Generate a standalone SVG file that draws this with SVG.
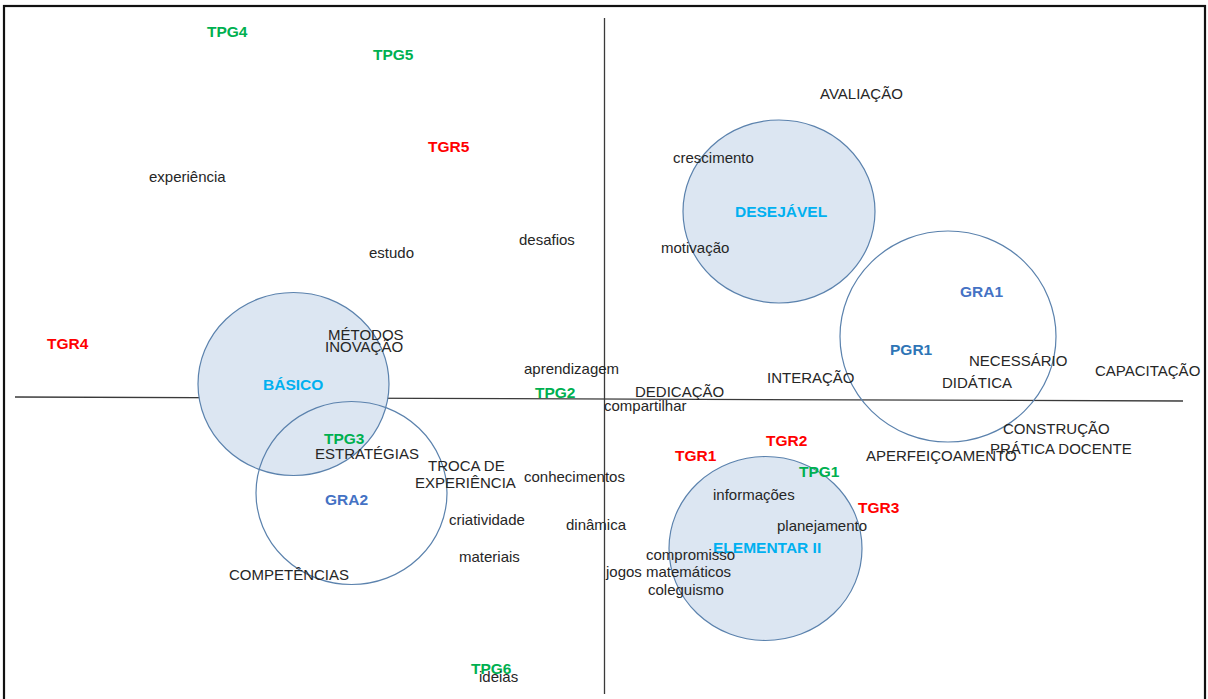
<svg xmlns="http://www.w3.org/2000/svg" width="1208" height="699" viewBox="0 0 1208 699">
  <style>
    .w { font-family: "Liberation Sans", Arial, sans-serif; font-size: 15px; fill: #262626; }
    .b { font-family: "Liberation Sans", Arial, sans-serif; font-size: 15.5px; font-weight: bold; }
    .tpg { fill: #00b050; }
    .tgr { fill: #ff0000; }
    .lvl { fill: #00b0f0; }
    .grp { fill: #4472c4; }
    .pgr { fill: #2e75b6; }
    .filled { fill: #dce6f2; stroke: #5b82ad; stroke-width: 1.2; }
    .open { fill: none; stroke: #5b82ad; stroke-width: 1.2; }
    .axis { stroke: #3a3a3a; stroke-width: 1.3; fill: none; }
  </style>

  <rect x="0" y="0" width="1208" height="699" fill="#ffffff"/>
  <!-- frame -->
  <rect x="4" y="6" width="1201" height="697" fill="none" stroke="#111111" stroke-width="2.2"/>

  <!-- axes -->
  <g id="connectors">
    <line class="axis" x1="604.5" y1="18" x2="604.5" y2="694"/>
    <line class="axis" x1="15" y1="397" x2="1183" y2="401"/>
  </g>

  <!-- clusters -->
  <g id="basico">
    <ellipse class="filled" cx="293.5" cy="384" rx="95.5" ry="91.5"/>
    <text class="b lvl" x="263" y="390">BÁSICO</text>
  </g>
  <g id="gra2">
    <ellipse class="open" cx="351.5" cy="493" rx="95.5" ry="91.5"/>
    <text class="b grp" x="325" y="505">GRA2</text>
  </g>
  <g id="desejavel">
    <ellipse class="filled" cx="779" cy="211.5" rx="96" ry="91.5"/>
    <text class="b lvl" x="735" y="217">DESEJÁVEL</text>
  </g>
  <g id="gra1">
    <ellipse class="open" cx="948" cy="336.5" rx="108" ry="105.5"/>
    <text class="b grp" x="960" y="297">GRA1</text>
  </g>
  <g id="pgr1">
    <text class="b pgr" x="890" y="355">PGR1</text>
  </g>
  <g id="elementar">
    <ellipse class="filled" cx="765.5" cy="548.5" rx="96.5" ry="92"/>
    <text class="b lvl" x="713" y="553">ELEMENTAR II</text>
  </g>

  <!-- participant codes -->
  <g id="tpg1"><text class="b tpg" x="799" y="477">TPG1</text></g>
  <g id="tpg2"><text class="b tpg" x="535" y="398">TPG2</text></g>
  <g id="tpg3"><text class="b tpg" x="324" y="444">TPG3</text></g>
  <g id="tpg4"><text class="b tpg" x="207" y="37">TPG4</text></g>
  <g id="tpg5"><text class="b tpg" x="373" y="60">TPG5</text></g>
  <g id="tpg6"><text class="b tpg" x="471" y="674">TPG6</text></g>
  <g id="tgr1"><text class="b tgr" x="675" y="461">TGR1</text></g>
  <g id="tgr2"><text class="b tgr" x="766" y="446">TGR2</text></g>
  <g id="tgr3"><text class="b tgr" x="858" y="513">TGR3</text></g>
  <g id="tgr4"><text class="b tgr" x="47" y="349">TGR4</text></g>
  <g id="tgr5"><text class="b tgr" x="428" y="152">TGR5</text></g>

  <!-- words -->
  <g id="words">
    <g id="w-experiencia"><text class="w" x="149" y="182">experiência</text></g>
    <g id="w-estudo"><text class="w" x="369" y="258">estudo</text></g>
    <g id="w-desafios"><text class="w" x="519" y="245">desafios</text></g>
    <g id="w-metodos"><text class="w" x="328" y="340">MÉTODOS</text></g>
    <g id="w-inovacao"><text class="w" x="325" y="352">INOVAÇÃO</text></g>
    <g id="w-estrategias"><text class="w" x="315" y="459">ESTRATÉGIAS</text></g>
    <g id="w-troca"><text class="w" x="428" y="471">TROCA DE</text><text class="w" x="415" y="488">EXPERIÊNCIA</text></g>
    <g id="w-criatividade"><text class="w" x="449" y="525">criatividade</text></g>
    <g id="w-materiais"><text class="w" x="459" y="562">materiais</text></g>
    <g id="w-competencias"><text class="w" x="229" y="580">COMPETÊNCIAS</text></g>
    <g id="w-conhecimentos"><text class="w" x="524" y="482">conhecimentos</text></g>
    <g id="w-dinamica"><text class="w" x="566" y="530">dinâmica</text></g>
    <g id="w-aprendizagem"><text class="w" x="524" y="374">aprendizagem</text></g>
    <g id="w-dedicacao"><text class="w" x="635" y="397">DEDICAÇÃO</text></g>
    <g id="w-compartilhar"><text class="w" x="604" y="411">compartilhar</text></g>
    <g id="w-ideias"><text class="w" x="479" y="682">ideias</text></g>
    <g id="w-avaliacao"><text class="w" x="820" y="99">AVALIAÇÃO</text></g>
    <g id="w-crescimento"><text class="w" x="673" y="163">crescimento</text></g>
    <g id="w-motivacao"><text class="w" x="661" y="253">motivação</text></g>
    <g id="w-necessario"><text class="w" x="969" y="366">NECESSÁRIO</text></g>
    <g id="w-didatica"><text class="w" x="942" y="388">DIDÁTICA</text></g>
    <g id="w-capacitacao"><text class="w" x="1095" y="376">CAPACITAÇÃO</text></g>
    <g id="w-interacao"><text class="w" x="767" y="383">INTERAÇÃO</text></g>
    <g id="w-construcao"><text class="w" x="1003" y="434">CONSTRUÇÃO</text></g>
    <g id="w-pratica"><text class="w" x="990" y="454">PRÁTICA DOCENTE</text></g>
    <g id="w-aperfeicoamento"><text class="w" x="866" y="461">APERFEIÇOAMENTO</text></g>
    <g id="w-informacoes"><text class="w" x="713" y="500">informações</text></g>
    <g id="w-planejamento"><text class="w" x="777" y="531">planejamento</text></g>
    <g id="w-compromisso"><text class="w" x="646" y="560">compromisso</text></g>
    <g id="w-jogos"><text class="w" x="606" y="577">jogos matemáticos</text></g>
    <g id="w-coleguismo"><text class="w" x="648" y="595">coleguismo</text></g>
  </g>
</svg>
